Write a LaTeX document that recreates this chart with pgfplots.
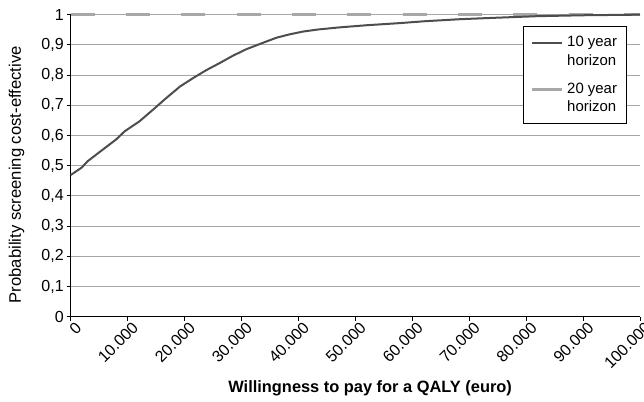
\documentclass[border=0pt]{standalone}
\usepackage{pgfplots}
\pgfplotsset{compat=1.18}
\usepackage{fontspec}
\setmainfont{Liberation Sans}
\definecolor{tenyr}{HTML}{4D4D4D}
\definecolor{twentyyr}{HTML}{A8A8A8}
\definecolor{gridc}{HTML}{A6A6A6}
\pgfplotstableread{
x y
0 0.469
1900 0.493
3000 0.515
5700 0.554
8000 0.587
9500 0.614
12100 0.647
14500 0.686
16800 0.724
19200 0.762
21500 0.790
23800 0.816
26200 0.840
28500 0.864
30900 0.886
33800 0.907
36200 0.924
38500 0.935
40800 0.944
43500 0.951
47300 0.958
52000 0.965
57800 0.972
62000 0.978
68400 0.985
75000 0.990
82000 0.995
90000 0.998
100000 1.0
}\tenyear
\pgfplotstableread{
x y
0 1
100000 1
}\twentyyear
\begin{document}
\begin{tikzpicture}
\path[use as bounding box] (-53pt,-64pt) rectangle (430pt,237.5pt);
\begin{axis}[
  scale only axis,
  width=427pt, height=226.5pt,
  xmin=0, xmax=100000, ymin=0, ymax=1,
  clip=false,
  axis lines=left,
  axis line style={black, line width=0.8pt, -},
  xtick={0,10000,20000,30000,40000,50000,60000,70000,80000,90000,100000},
  xticklabels={0,10.000,20.000,30.000,40.000,50.000,60.000,70.000,80.000,90.000,100.000},
  ytick={0,0.1,0.2,0.3,0.4,0.5,0.6,0.7,0.8,0.9,1},
  yticklabels={0,{0,1},{0,2},{0,3},{0,4},{0,5},{0,6},{0,7},{0,8},{0,9},1},
  scaled x ticks=false,
  xticklabel style={rotate=45, anchor=north east, font=\fontsize{12}{14}\selectfont, inner sep=1pt, xshift=3pt, yshift=-1pt},
  yticklabel style={font=\fontsize{12}{14}\selectfont, inner sep=2pt},
  tick align=outside,
  major tick length=3pt,
  tick style={black, line width=0.6pt},
  ymajorgrids,
  grid style={gridc, line width=0.6pt},
  xlabel={\bfseries Willingness to pay for a QALY (euro)},
  xlabel style={font=\fontsize{12.3}{14}\selectfont, at={(axis description cs:0.526,0)}, anchor=center, yshift=-54pt},
  ylabel={Probability screening cost-effective},
  ylabel style={font=\fontsize{12.5}{14}\selectfont, at={(axis description cs:-0.095,0.47)}, anchor=center},
  legend style={at={(axis cs:79440,0.9626)}, anchor=north west, draw=black, line width=0.6pt,
    font=\fontsize{11.2}{13.7}\selectfont, cells={align=left, anchor=west},
    inner xsep=5pt, inner ysep=5.5pt, row sep=8pt, column sep=1pt},
  legend image code/.code={\draw[#1] (0pt,6.85pt) -- (22.5pt,6.85pt);},
]
\addplot[twentyyr, line width=2.4pt, dash pattern=on 18pt off 23.5pt, forget plot] table[x=x,y=y]{\twentyyear};
\addplot[tenyr, line width=1.5pt] table[x=x,y=y]{\tenyear};
\addlegendentry{10 year\\horizon}
\addlegendimage{twentyyr, line width=2.4pt}
\addlegendentry{20 year\\horizon}
\end{axis}
\end{tikzpicture}
\end{document}
